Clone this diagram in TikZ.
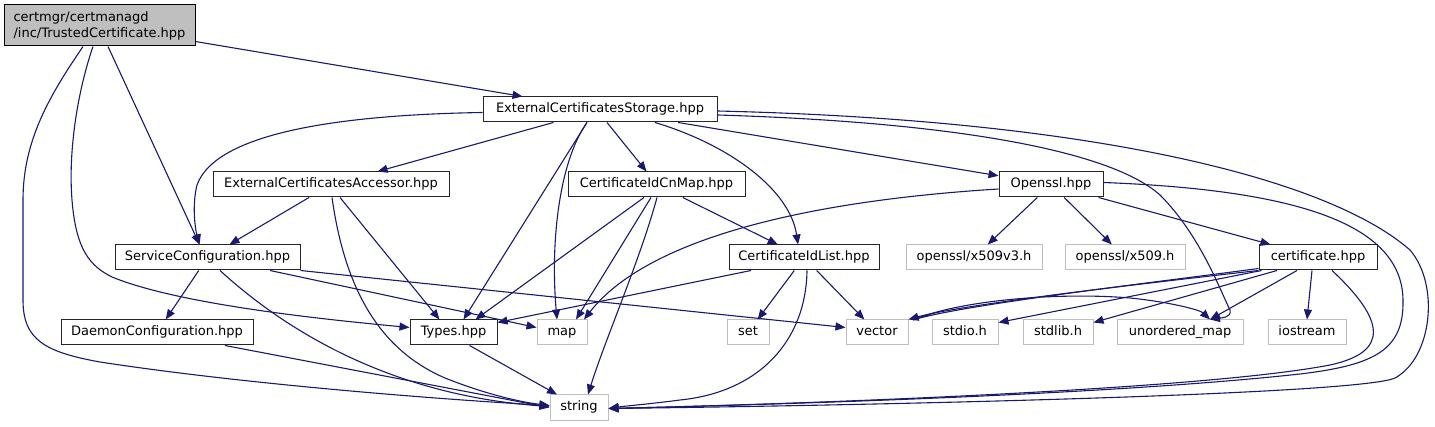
\documentclass[tikz,border=0pt]{standalone}
\usepackage{fontspec}
\setmainfont{DejaVu Sans}
\usepackage{xcolor}
\usetikzlibrary{arrows.meta}
\definecolor{incblue}{RGB}{25,25,112}

\begin{document}
\begin{tikzpicture}[
      x=1pt, y=-1pt, font=\fontsize{13}{16}\selectfont,
      >={Triangle[length=10pt, width=8pt]},
      hdr/.style={draw=black, fill=black!25, line width=1pt, align=left,
      inner sep=0pt, minimum height=41pt},
      proj/.style={draw=black!85, fill=white, line width=1pt, inner sep=0pt,
      minimum height=25pt, text height=9.5pt, text depth=3pt},
      sysh/.style={draw=black!25, fill=white, line width=1pt, inner sep=0pt,
      minimum height=25pt, text height=9.5pt, text depth=3pt},
    inc/.style={->, line width=1.1pt, draw=incblue}]

    \useasboundingbox (0,0) rectangle (1435,427);

    % ---- files (rows as laid out by the include graph) ----
    \node[hdr, minimum width=191pt] (root) at (99.5,25.5)
    {certmgr/certmanagd\\/inc/TrustedCertificate.hpp};
    \node[proj, minimum width=234pt] (ECS) at (600,109.5) {ExternalCertificatesStorage.hpp};
    \node[proj, minimum width=236pt] (ECA) at (331,184.5) {ExternalCertificatesAccessor.hpp};
    \node[proj, minimum width=177pt] (CICM) at (656.5,184.5) {CertificateIdCnMap.hpp};
    \node[proj, minimum width=104pt] (Openssl) at (1051,184.5) {Openssl.hpp};
    \node[proj, minimum width=185pt] (SC) at (207.5,257.5) {ServiceConfiguration.hpp};
    \node[proj, minimum width=150pt] (CIL) at (804,257.5) {CertificateIdList.hpp};
    \node[sysh, minimum width=136pt] (x509v3) at (974,257.5) {openssl/x509v3.h};
    \node[sysh, minimum width=120pt] (x509) at (1125,257.5) {openssl/x509.h};
    \node[proj, minimum width=118pt] (certificate) at (1318,257.5) {certificate.hpp};
    \node[proj, minimum width=192pt] (DC) at (157,332.5) {DaemonConfiguration.hpp};
    \node[proj, minimum width=87pt] (Types) at (453.5,332.5) {Types.hpp};
    \node[sysh, minimum width=50pt] (map) at (562,332.5) {map};
    \node[sysh, minimum width=42pt] (set) at (748,332.5) {set};
    \node[sysh, minimum width=62pt] (vector) at (877,332.5) {vector};
    \node[sysh, minimum width=66pt] (stdio) at (965,332.5) {stdio.h};
    \node[sysh, minimum width=70pt] (stdlib) at (1058,332.5) {stdlib.h};
    \node[sysh, minimum width=126pt] (umap) at (1180,332.5) {unordered\_map};
    \node[sysh, minimum width=78pt] (iostream) at (1307,332.5) {iostream};
    \node[sysh, minimum width=58pt] (string) at (579,407.5) {string};

    % ---- TrustedCertificate.hpp ----
    \draw[inc] (root) -- (ECS);
    \draw[inc] ([xshift=8.5]root.south) -- ([xshift=-8]SC.north);
    \draw[inc] ([xshift=-6.5]root.south) .. controls (78,90) and (68,150) .. (72,200)
    .. controls (76,250) and (90,266) .. (112,277)
    .. controls (180,305) and (330,320) .. ([yshift=5]Types.west);
    \draw[inc] ([xshift=-16.5]root.south) .. controls (50,95) and (23,140) .. (23,200)
    -- (23,300) .. controls (23,340) and (45,352) .. (100,362)
    .. controls (250,385) and (450,400) .. ([yshift=2]string.west);

    % ---- ExternalCertificatesStorage.hpp ----
    \draw[inc] ([yshift=-3]ECS.west) .. controls (330,115) and (215,135) .. (197,185)
    .. controls (192,205) and (195,228) .. ([xshift=-8]SC.north);
    \draw[inc] (ECS) -- (ECA);
    \draw[inc] ([xshift=-13]ECS.south) -- ([xshift=10]Types.north);
    \draw[inc] ([xshift=-13]ECS.south) .. controls (560,160) and (550,240) .. ([xshift=-5]map.north);
    \draw[inc] ([xshift=7]ECS.south) -- ([xshift=-10]CICM.north);
    \draw[inc] ([xshift=55]ECS.south) .. controls (730,145) and (790,190) .. ([xshift=-6]CIL.north);
    \draw[inc] (ECS) -- (Openssl);
    \draw[inc] ([yshift=-5.5]ECS.east) .. controls (950,122) and (1110,150) .. (1160,195)
    .. controls (1200,235) and (1220,290) .. (1230,310)
    .. controls (1232,318) and (1220,318) .. ([xshift=30]umap.north);
    \draw[inc] ([yshift=-1.5]ECS.east) .. controls (1100,120) and (1330,180) .. (1410,250)
    .. controls (1440,285) and (1432,358) .. (1395,378)
    .. controls (1360,394) and (900,405) .. ([yshift=-1]string.east);

    % ---- ExternalCertificatesAccessor.hpp ----
    \draw[inc] (ECA) -- (SC);
    \draw[inc] ([xshift=9]ECA.south) -- ([xshift=-14]Types.north);
    \draw[inc] ([xshift=1]ECA.south) .. controls (345,290) and (380,350) .. (445,378)
    .. controls (485,394) and (520,402) .. ([yshift=2]string.west);

    % ---- CertificateIdCnMap.hpp ----
    \draw[inc] ([xshift=-12.5]CICM.south) -- ([xshift=22]Types.north);
    \draw[inc] ([xshift=-5.5]CICM.south) -- ([xshift=14]map.north);
    \draw[inc] ([xshift=0.5]CICM.south) .. controls (640,260) and (605,340) .. ([xshift=9]string.north);
    \draw[inc] (CICM) -- (CIL);

    % ---- Openssl.hpp ----
    \draw[inc] ([yshift=-4.5]Openssl.west) .. controls (820,200) and (650,235) .. ([xshift=22]map.north);
    \draw[inc] (Openssl) -- (x509v3);
    \draw[inc] (Openssl) -- (x509);
    \draw[inc] (Openssl) -- (certificate);
    \draw[inc] ([yshift=2]Openssl.east) .. controls (1300,190) and (1402,225) .. (1403,300)
    .. controls (1404,350) and (1375,365) .. (1300,374)
    .. controls (1100,396) and (750,405) .. ([yshift=-1]string.east);

    % ---- ServiceConfiguration.hpp ----
    \draw[inc] (SC) -- (DC);
    \draw[inc] ([xshift=12.5]SC.south) .. controls (285,330) and (390,395) .. ([yshift=1]string.west);
    \draw[inc] ([xshift=62.5]SC.south) -- ([yshift=5]map.west);
    \draw[inc] (SC.south east) -- ([yshift=5]vector.west);

    % ---- DaemonConfiguration.hpp, Types.hpp ----
    \draw[inc] ([xshift=68]DC.south) -- (string.west);
    \draw[inc] ([xshift=16]Types.south) -- ([xshift=-22]string.north);

    % ---- CertificateIdList.hpp ----
    \draw[inc] ([xshift=-53]CIL.south) -- ([yshift=10]Types.east);
    \draw[inc] (CIL) -- (set);
    \draw[inc] (CIL) -- (vector);
    \draw[inc] ([xshift=3]CIL.south) .. controls (806,340) and (760,392) .. (680,400)
    .. controls (650,404) and (625,406) .. ([yshift=-1]string.east);

    % ---- certificate.hpp ----
    \draw[inc] (certificate.south west) .. controls (1130,285) and (960,305) .. (vector.north east);
    \draw[inc] ([yshift=2]certificate.south west) .. controls (1150,283) and (960,305) .. (913,320)
    .. controls (960,300) and (1060,292) .. (1130,298)
    .. controls (1170,302) and (1200,310) .. ([xshift=30]umap.north);
    \draw[inc] ([xshift=3]certificate.south west) -- ([yshift=10]stdio.east);
    \draw[inc] ([xshift=-41]certificate.south) -- ([yshift=10]stdlib.east);
    \draw[inc] ([xshift=-21]certificate.south) -- ([xshift=30]umap.north);
    \draw[inc] ([xshift=-6]certificate.south) -- (iostream.north);
    \draw[inc] ([xshift=14]certificate.south) .. controls (1385,320) and (1390,352) .. (1330,365)
    .. controls (1200,390) and (800,404) .. ([yshift=-1]string.east);
  \end{tikzpicture}
\end{document}
